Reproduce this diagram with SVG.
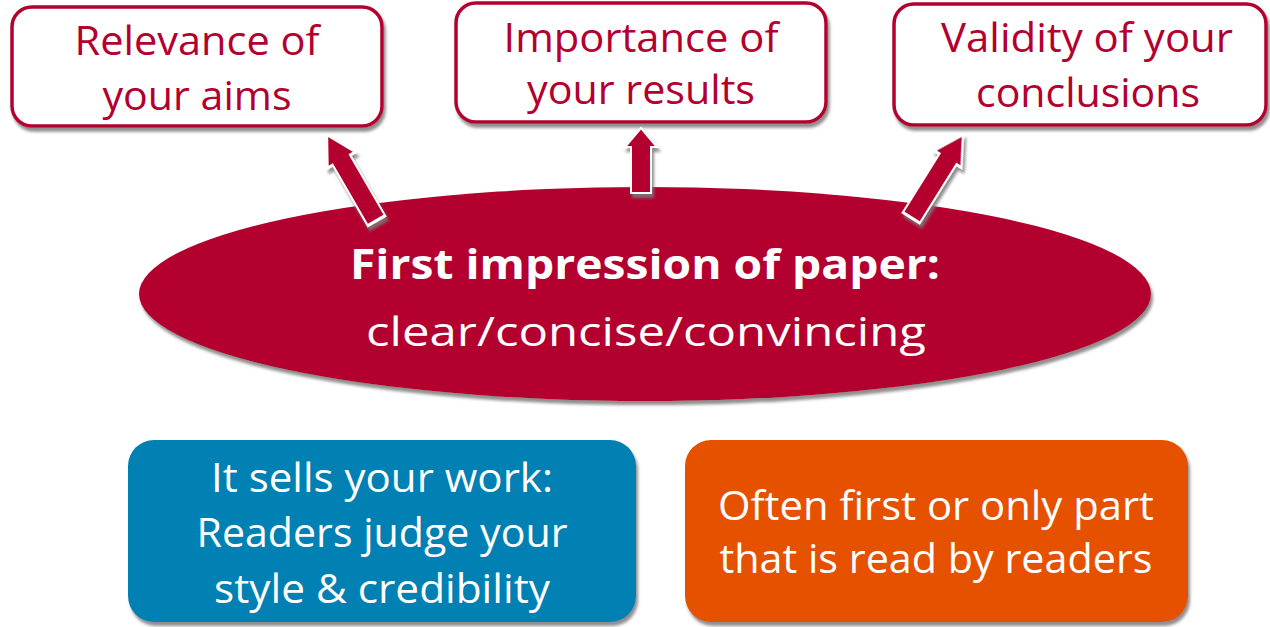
<svg xmlns="http://www.w3.org/2000/svg" width="1270" height="627" viewBox="0 0 1270 627">
<defs>
<style>
.top{fill:#fff;stroke:#B3002F;stroke-width:3.5}
.tt{font-family:"Open Sans","Noto Sans",sans-serif;font-size:41px;fill:#B3002F;text-anchor:middle}
.wt{font-family:"Open Sans","Noto Sans",sans-serif;font-size:41px;fill:#fff;text-anchor:middle}
.arr{fill:#B3002F;stroke:#fff;stroke-width:2}
</style>
<filter id="sh" x="-10%" y="-10%" width="130%" height="140%">
<feDropShadow dx="2" dy="4" stdDeviation="1.5" flood-color="#7a7a7a" flood-opacity="0.85"/>
</filter>
<path id="ar" d="M0,0 L16,19 L10,19 L10,65 L-10,65 L-10,19 L-16,19 Z"/>
</defs>
<rect width="1270" height="627" fill="#fff"/>
<g id="node-relevance">
<rect class="top" x="12" y="7" width="370" height="119" rx="20" filter="url(#sh)"/>
<text class="tt" x="197" y="55" textLength="245" lengthAdjust="spacingAndGlyphs">Relevance of</text>
<text class="tt" x="197" y="110" textLength="189" lengthAdjust="spacingAndGlyphs">your aims</text>
</g>
<g id="node-importance">
<rect class="top" x="456" y="3" width="370" height="119" rx="20" filter="url(#sh)"/>
<text class="tt" x="641" y="52" textLength="275" lengthAdjust="spacingAndGlyphs">Importance of</text>
<text class="tt" x="641" y="104" textLength="228" lengthAdjust="spacingAndGlyphs">your results</text>
</g>
<g id="node-validity">
<rect class="top" x="894" y="4" width="372" height="121" rx="20" filter="url(#sh)"/>
<text class="tt" x="1087" y="52" textLength="292" lengthAdjust="spacingAndGlyphs">Validity of your</text>
<text class="tt" x="1088" y="107" textLength="224" lengthAdjust="spacingAndGlyphs">conclusions</text>
</g>
<g id="node-first">
<ellipse cx="645" cy="294" rx="506" ry="107" fill="#B3002F" filter="url(#sh)"/>
<text class="wt" x="645" y="279" font-size="45" font-weight="bold" textLength="590" lengthAdjust="spacingAndGlyphs">First impression of paper:</text>
<text class="wt" x="646" y="346" font-size="45" textLength="560" lengthAdjust="spacingAndGlyphs">clear/concise/convincing</text>
</g>
<g id="connectors">
<g filter="url(#sh)">
<use href="#ar" class="arr" transform="translate(327,135) rotate(-30) scale(1,1.52)"/>
<use href="#ar" class="arr" transform="translate(641,128)"/>
<use href="#ar" class="arr" transform="translate(963,135) rotate(32) scale(1,1.5)"/>
</g>
</g>
<g id="node-sells">
<rect x="128" y="440" width="508" height="182" rx="26" fill="#0380B3" filter="url(#sh)"/>
<text class="wt" x="382" y="492" textLength="342" lengthAdjust="spacingAndGlyphs">It sells your work:</text>
<text class="wt" x="382" y="547" textLength="371" lengthAdjust="spacingAndGlyphs">Readers judge your</text>
<text class="wt" x="382" y="603" textLength="336" lengthAdjust="spacingAndGlyphs">style &amp; credibility</text>
</g>
<g id="node-often">
<rect x="685" y="440" width="503" height="182" rx="26" fill="#E65100" filter="url(#sh)"/>
<text class="wt" x="936" y="520" textLength="436" lengthAdjust="spacingAndGlyphs">Often first or only part</text>
<text class="wt" x="936" y="573" textLength="433" lengthAdjust="spacingAndGlyphs">that is read by readers</text>
</g>
</svg>
